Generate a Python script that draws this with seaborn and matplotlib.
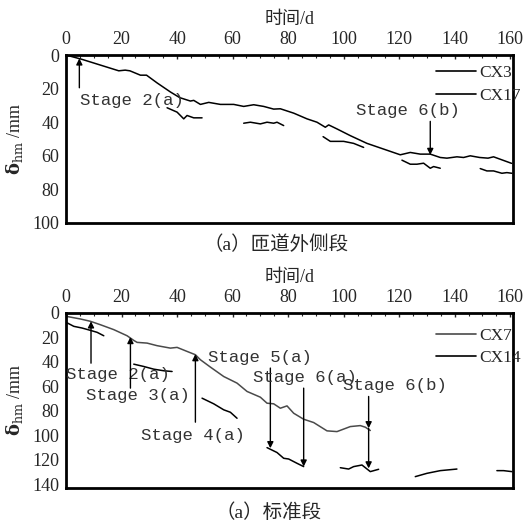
import numpy as np
import pandas as pd
import matplotlib
matplotlib.use('Agg')
import matplotlib.pyplot as plt
from matplotlib.ticker import MultipleLocator
from matplotlib.lines import Line2D
import seaborn as sns

sns.set_style('white')
plt.rcParams['font.family'] = ['Liberation Serif', 'Noto Sans CJK SC']
plt.rcParams['mathtext.fontset'] = 'dejavuserif'

# 匝道外侧段
cx3_t = [0, 5.8, 12.4, 19, 21.3, 23, 26.8, 29, 32.8, 37.6, 41, 44.8, 46, 48.4, 51.4, 55.6,
         60.4, 64, 67.6, 71.2, 74.8, 77.2, 82, 86.8, 90.4, 93.4, 94.6, 97.6, 102.4, 108.4,
         114.4, 120.4, 124, 127.6, 131.2, 134.8, 137.2, 140.8, 143.2, 145.6, 149, 152, 154, 160.5]
cx3_d = [0, 2.6, 6, 9.4, 9, 9.4, 12, 12, 16.6, 22, 25.4, 27.4, 27, 29.4, 28.2, 29.4,
         29.4, 30.6, 29.6, 30.6, 32.2, 32, 34.6, 38, 40, 43, 41.6, 44, 48, 52.6,
         56, 59.4, 58, 59, 59, 61, 61.4, 60.6, 61, 60, 61, 61.4, 60.6, 64.5]

cx17_seg = [1, 1, 1, 1, 1, 1,
            2, 2, 2, 2, 2, 2, 2,
            3, 3, 3, 3, 3,
            4, 4, 4, 4, 4, 4, 4,
            5, 5, 5, 5, 5, 5]
cx17_t = [36.4, 40, 42.4, 43.6, 46, 49,
          64, 66.4, 70, 72.4, 74.8, 76, 78.4,
          92.6, 95.2, 100, 103.6, 107.2,
          121, 124, 126.4, 128.8, 131.2, 132.4, 134.8,
          149.2, 151.6, 154, 157, 158.8, 160.6]
cx17_d = [31.4, 34, 38, 36, 37.4, 37.4,
          40.6, 40, 41, 40, 40.6, 40, 42,
          48.6, 51.4, 51.4, 52.6, 55,
          62.6, 65, 65, 64.4, 67.4, 66.4, 67.4,
          67.6, 69, 69, 70.4, 70, 70.4]

# 标准段
cx7_t = [0, 5.2, 8.8, 12.4, 17.2, 22, 24.4, 25.6, 29.2, 32.8, 37.6, 40, 43.6, 46.6, 48.4,
         52, 56.8, 61.6, 65.2, 70, 72.4, 74.8, 77.2, 79.6, 82, 85.6, 89.2, 94, 97.6,
         102.4, 106, 107.8, 109.6]
cx7_d = [2.7, 4.9, 6.8, 9.6, 13.6, 18.6, 22.4, 24, 24.6, 26.7, 28.7, 28.1, 31.4, 34.1, 38.2,
         44.2, 51.9, 57.3, 64.1, 68.8, 73.7, 74.2, 77.8, 75.9, 81.9, 86.8, 89.5, 96.3, 96.9,
         92.8, 92, 93.3, 96]

cx14_seg = [1, 1, 1, 1, 1, 1,
            2, 2, 2, 2, 2,
            3, 3, 3, 3, 3,
            4, 4, 4, 4, 4, 4,
            5, 5, 5, 5, 5, 5,
            6, 6, 6, 6,
            7, 7, 7]
cx14_t = [0, 2.8, 5.8, 8.8, 11.2, 13.6,
          24.4, 28, 31.6, 35.2, 38.2,
          49, 53.2, 56.8, 59.2, 61.6,
          72.4, 76, 78.4, 80.2, 83.2, 85.6,
          98.8, 101.8, 103.6, 106.6, 109.6, 112.6,
          125.8, 130, 134.8, 140.8,
          155.2, 157.6, 160.6]
cx14_d = [7.6, 10.9, 12.3, 14.2, 15.8, 18.6,
          41.8, 43.7, 45.9, 47.2, 47.8,
          69.6, 74.2, 79.1, 81.1, 86,
          110, 114, 118.7, 119.3, 122.8, 125.5,
          126.4, 127.5, 125.5, 124.2, 129.6, 127.7,
          133.7, 131, 128.8, 127.5,
          128.8, 128.8, 129.6]

# 阶段标注: 文字, 文字x, 文字y, 对齐, 箭头x, 箭尾y, 箭头y
stages_a = [('Stage 2(a)', 5.0, 27, 'left', 4.8, 19.5, 2),
            ('Stage 6(b)', 123, 33, 'center', 131.2, 39.5, 59.5)]
stages_b = [('Stage 2(a)', 0, 50.5, 'left', 9, 41, 6.8),
            ('Stage 3(a)', 26, 67.7, 'center', 23.2, 61.4, 19.6),
            ('Stage 4(a)', 45.8, 100, 'center', 46.6, 89.2, 33.6),
            ('Stage 5(a)', 69.7, 36.3, 'center', 73.6, 45, 110.5),
            ('Stage 6(a)', 86, 52.7, 'center', 85.6, 61.4, 125.5),
            ('Stage 6(b)', 118.5, 59.5, 'center', 109, 68.2, 94.2),
            ('', 0, 0, 'center', 109, 94.2, 127)]

fig = plt.figure(figsize=(5.24, 5.22), dpi=100)
ax1 = fig.add_axes([0.126, 0.5728, 0.853, 0.3218])
ax2 = fig.add_axes([0.126, 0.0651, 0.853, 0.3353])


def draw(ax, t1, d1, c1, t2, seg2, d2, c2, lab1, lab2, ymax, stages, subtitle, subx, suby, legy):
    sns.lineplot(x=t1, y=d1, ax=ax, color=c1, lw=1.1, estimator=None, sort=False)
    df2 = pd.DataFrame({'t': t2, 'd': d2, 'seg': seg2})
    sns.lineplot(data=df2, x='t', y='d', units='seg', estimator=None, ax=ax, color=c2,
                 lw=1.1, sort=False)
    ax.set_xlim(0, 161)
    ax.set_ylim(ymax, 0)
    ax.xaxis.set_major_locator(MultipleLocator(20))
    ax.xaxis.set_minor_locator(MultipleLocator(5))
    ax.yaxis.set_major_locator(MultipleLocator(20))
    ax.xaxis.tick_top()
    ax.xaxis.set_label_position('top')
    ax.tick_params(axis='x', which='major', direction='in', length=3, width=1, labelsize=13, pad=5,
                   top=True, bottom=False)
    ax.tick_params(axis='x', which='minor', direction='in', length=2, width=0.8, top=True, bottom=False)
    ax.tick_params(axis='y', direction='in', length=0, labelsize=13, pad=5)
    ax.set_xlabel('时间/d', fontsize=13, labelpad=5)
    ax.set_ylabel(r'$\mathbf{\delta}_{\mathrm{hm}}$ /mm', fontsize=13, labelpad=5)
    for s in ax.spines.values():
        s.set_linewidth(2)
        s.set_color('black')
    for txt, tx, ty, ha, axx, y0, y1 in stages:
        ax.annotate('', xy=(axx, y1), xytext=(axx, y0),
                    arrowprops=dict(arrowstyle='-|>', color='black', lw=1, mutation_scale=9,
                                    shrinkA=0, shrinkB=0))
        if txt:
            ax.text(tx, ty, txt, ha=ha, va='center', fontsize=12.5, color='#333333',
                    family=['Liberation Mono', 'DejaVu Sans Mono'])
    handles = [Line2D([], [], color=c1, lw=1.2), Line2D([], [], color=c2, lw=1.2)]
    ax.legend(handles, [lab1, lab2], loc='upper right', frameon=False, fontsize=12.5,
              handlelength=2.3, handletextpad=0.2, borderaxespad=0.0, borderpad=0.3,
              labelspacing=0.35, bbox_to_anchor=(1.03, legy))
    fig.text(subx, suby, subtitle, ha='center', va='center', fontsize=14)


draw(ax1, cx3_t, cx3_d, 'black', cx17_t, cx17_seg, cx17_d, 'black', 'CX3', 'CX17',
     100, stages_a, '（a）匝道外侧段', 0.527, 1 - 245 / 522, 0.97)
draw(ax2, cx7_t, cx7_d, '#4a4a4a', cx14_t, cx14_seg, cx14_d, 'black', 'CX7', 'CX14',
     143, stages_b, '（a）标准段', 0.512, 1 - 513 / 522, 0.945)

fig.savefig('out.png', dpi=100)
